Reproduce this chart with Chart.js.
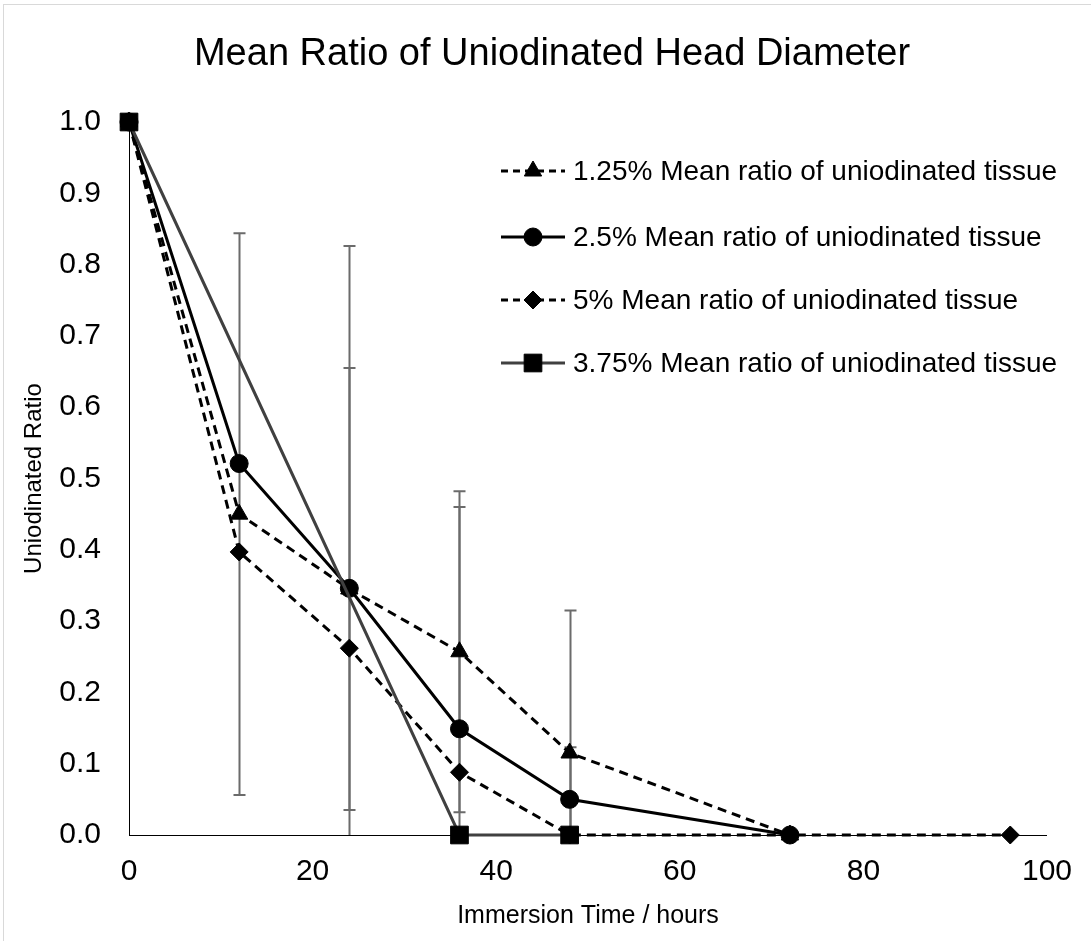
<!DOCTYPE html>
<html>
<head>
<meta charset="utf-8">
<script src="https://cdn.jsdelivr.net/npm/chart.js@4/dist/chart.umd.min.js"></script>
<style>
  html, body { margin: 0; padding: 0; background: #fff; }
  #wrap { width: 1091px; height: 941px; }
</style>
</head>
<body>
<div id="wrap"><canvas id="grafico" width="1091" height="941"></canvas></div>
<script>
// Immersion times (hours)
const horas = [0, 12, 24, 36, 48, 72, 96];

// Mean ratio of uniodinated tissue per concentration
const conc125 = [1.0, 0.45, 0.345, 0.257, 0.115, 0.0];
const conc25 = [1.0, 0.521, 0.346, 0.149, 0.05, 0.0];
const conc5 = [1.0, 0.397, 0.262, 0.088, 0.0, 0.0, 0.0];
const conc375 = [1.0, null, null, 0.0, 0.0];

// Error bar half-widths (null = no bar)
const erro125 = [null, 0.394, 0.31, 0.225, 0.2, null];
const erro25 = [null, null, 0.48, 0.311, 0.073, null];

const rotulos = [
  '1.25% Mean ratio of uniodinated tissue',
  '2.5% Mean ratio of uniodinated tissue',
  '5% Mean ratio of uniodinated tissue',
  '3.75% Mean ratio of uniodinated tissue'
];

const xTicks = [0, 20, 40, 60, 80, 100];
const yTicks = [0, 0.1, 0.2, 0.3, 0.4, 0.5, 0.6, 0.7, 0.8, 0.9, 1.0];

const FONTE = "'Liberation Sans', Arial, sans-serif";

function pontos(vals) {
  const out = [];
  vals.forEach((v, i) => { if (v !== null) out.push({ x: horas[i], y: v }); });
  return out;
}

const datasets = [
  {
    label: rotulos[0], data: pontos(conc125), erros: erro125, valores: conc125,
    borderColor: '#000', backgroundColor: '#000', borderWidth: 3, borderDash: [9, 6],
    pointStyle: 'triangle', pointRadius: 10, order: 3
  },
  {
    label: rotulos[1], data: pontos(conc25), erros: erro25, valores: conc25,
    borderColor: '#000', backgroundColor: '#000', borderWidth: 3,
    pointStyle: 'circle', pointRadius: 9, order: 2
  },
  {
    label: rotulos[2], data: pontos(conc5),
    borderColor: '#000', backgroundColor: '#000', borderWidth: 3, borderDash: [9, 6],
    pointStyle: 'rectRot', pointRadius: 9, order: 4
  },
  {
    label: rotulos[3], data: pontos(conc375),
    borderColor: '#404040', backgroundColor: '#000', borderWidth: 3,
    pointStyle: 'rect', pointRadius: 12.5, order: 1
  }
];
datasets.forEach(d => {
  d.showLine = true;
  d.clip = false;
  d.tension = 0;
  d.pointBorderColor = '#000';
  d.pointBackgroundColor = '#000';
  d.pointBorderWidth = 1;
});

// moldura + titulo
const fundo = {
  id: 'fundo',
  beforeDraw(chart) {
    const c = chart.ctx;
    c.save();
    c.fillStyle = '#fff';
    c.fillRect(0, 0, chart.width, chart.height);
    c.strokeStyle = '#d9d9d9';
    c.lineWidth = 1;
    c.strokeRect(3.5, 4.5, chart.width + 10, chart.height + 10);
    c.fillStyle = '#000';
    c.font = '38px ' + FONTE;
    c.textAlign = 'center';
    c.textBaseline = 'middle';
    c.fillText('Mean Ratio of Uniodinated Head Diameter', 552, 55);
    c.restore();
  }
};

// barras de erro
const barrasErro = {
  id: 'barrasErro',
  beforeDatasetsDraw(chart) {
    const c = chart.ctx;
    const xs = chart.scales.x, ys = chart.scales.y;
    const area = chart.chartArea;
    c.save();
    c.strokeStyle = '#6b6b6b';
    c.lineWidth = 2;
    chart.data.datasets.forEach(ds => {
      if (!ds.erros) return;
      ds.erros.forEach((e, i) => {
        if (e === null || ds.valores[i] === null) return;
        const px = Math.round(xs.getPixelForValue(horas[i])) + 0.5;
        const alto = ds.valores[i] + e, baixo = ds.valores[i] - e;
        const yA = ys.getPixelForValue(alto);
        const yB = Math.min(ys.getPixelForValue(baixo), area.bottom);
        c.beginPath();
        c.moveTo(px, yA); c.lineTo(px, yB);
        c.moveTo(px - 6, yA); c.lineTo(px + 6, yA);
        if (baixo >= 0) { c.moveTo(px - 6, yB); c.lineTo(px + 6, yB); }
        c.stroke();
      });
    });
    c.restore();
  }
};

// legenda desenhada à mão
const legenda = {
  id: 'legenda',
  afterDraw(chart) {
    const c = chart.ctx;
    const linhas = [171, 237, 300, 363];
    const ordemLeg = [0, 1, 2, 3];
    c.save();
    ordemLeg.forEach((k, j) => {
      const ds = chart.data.datasets[k];
      const y = linhas[j];
      c.strokeStyle = ds.borderColor;
      c.lineWidth = ds.borderWidth;
      c.setLineDash(ds.borderDash ? [7, 5] : []);
      c.beginPath();
      c.moveTo(501, y); c.lineTo(565, y);
      c.stroke();
      c.setLineDash([]);
      c.fillStyle = '#000';
      c.strokeStyle = '#000';
      c.lineWidth = 1;
      Chart.helpers.drawPoint(c, { pointStyle: ds.pointStyle, radius: ds.pointRadius, borderWidth: 1, rotation: 0 }, 533, y);
      c.fillStyle = '#000';
      c.font = '28px ' + FONTE;
      c.textAlign = 'left';
      c.textBaseline = 'middle';
      c.fillText(ds.label, 573, y + 1);
    });
    c.restore();
  }
};

const config = {
  type: 'scatter',
  data: { datasets: datasets },
  options: {
    responsive: false,
    animation: false,
    layout: { padding: { left: 0, right: 43, top: 122, bottom: 0 } },
    plugins: {
      legend: { display: false },
      title: { display: false },
      tooltip: { enabled: false }
    },
    scales: {
      x: {
        type: 'linear', min: 0, max: 100,
        afterBuildTicks: s => { s.ticks = xTicks.map(v => ({ value: v })); },
        afterFit: s => { s.height = 106; },
        grid: { display: false, drawTicks: false },
        border: { display: true, color: '#000', width: 1 },
        ticks: { color: '#000', padding: 19, font: { family: FONTE, size: 30 } },
        title: {
          display: true, text: 'Immersion Time / hours', color: '#000',
          font: { family: FONTE, size: 25 }, padding: { top: 10, bottom: 10 }
        }
      },
      y: {
        type: 'linear', min: 0, max: 1,
        afterBuildTicks: s => { s.ticks = yTicks.map(v => ({ value: v })); },
        afterFit: s => { s.width = 129; },
        grid: { display: false, drawTicks: false },
        border: { display: true, color: '#000', width: 1 },
        ticks: {
          color: '#000', padding: 28, font: { family: FONTE, size: 30 },
          callback: v => Number(v).toFixed(1)
        },
        title: {
          display: true, text: 'Uniodinated Ratio', color: '#000',
          font: { family: FONTE, size: 24 }, padding: { top: 20, bottom: 0 }
        }
      }
    }
  },
  plugins: [fundo, barrasErro, legenda]
};

new Chart(document.getElementById('grafico'), config);
</script>
</body>
</html>
